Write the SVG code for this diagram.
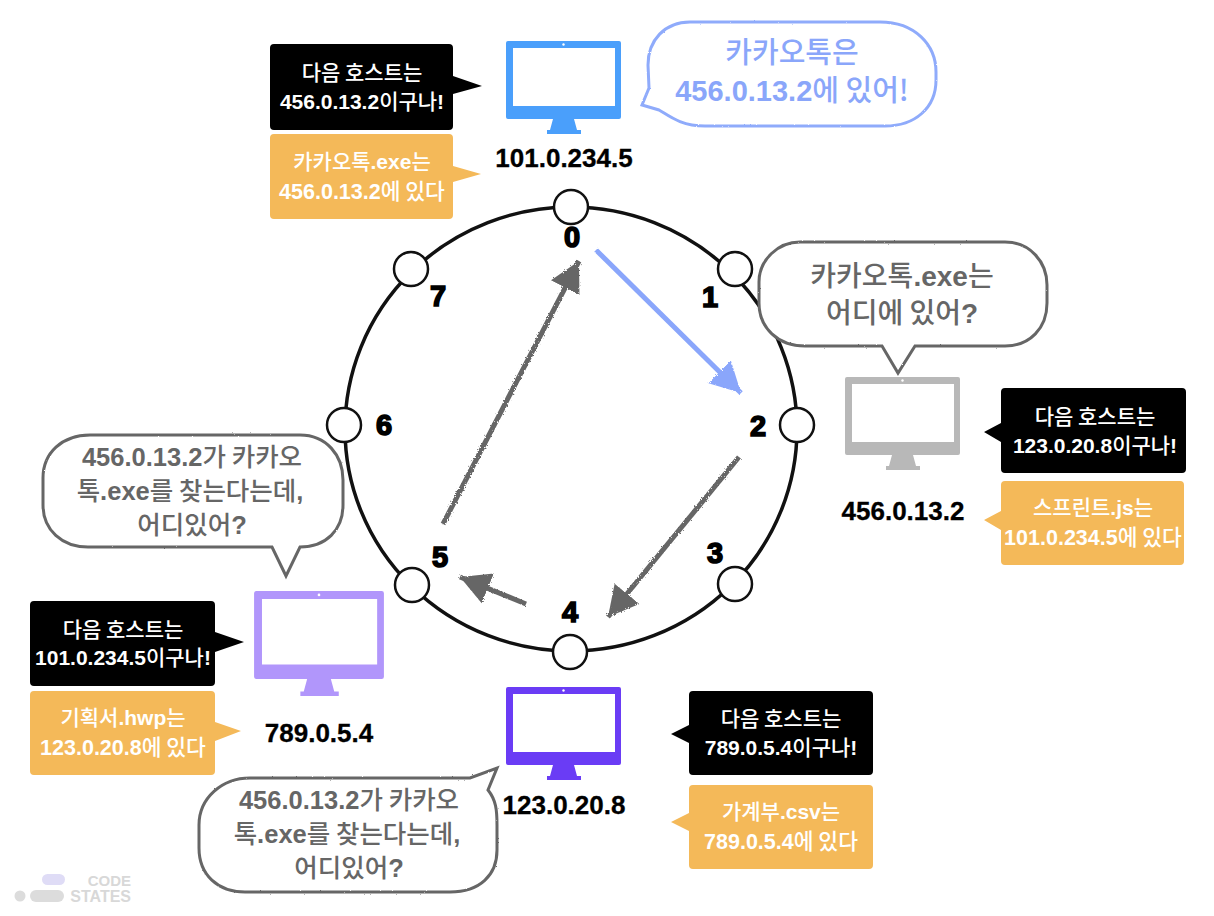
<svg xmlns="http://www.w3.org/2000/svg" width="1214" height="916" viewBox="0 0 1214 916">
<style>
text{font-family:"Liberation Sans","Noto Sans CJK KR",sans-serif;font-weight:700;text-anchor:middle}
.k{font-family:"Noto Sans CJK KR","Liberation Sans",sans-serif;font-weight:500}
.box{font-size:21px;fill:#fff}
.box2{font-size:21.5px;fill:#fff}
.ip{font-size:26px;fill:#000;stroke:#000;stroke-width:.3px}
.num{font-size:29px;fill:#000;stroke:#000;stroke-width:1.6px}
.say{font-size:25.5px;fill:#666}
.sayl{font-size:28px;fill:#666}
.sayb{font-size:29px;fill:#8aa6fa}
.bub{fill:#fff;stroke:#666;stroke-width:3px;filter:url(#rough)}
.bubb{fill:#fff;stroke:#8fabfb;stroke-width:3px;filter:url(#rough)}
.blk{fill:#000}
.org{fill:#f4b959}
.node{fill:#fff;stroke:#111;stroke-width:2.5px}
.arr{fill:none;stroke:#666;stroke-width:5px;marker-end:url(#hg);filter:url(#rough2)}
.arrb{fill:none;stroke:#8aa6fb;stroke-width:5px;marker-end:url(#hb);filter:url(#rough2)}
</style>
<defs>
<filter id="rough" x="-5%" y="-5%" width="110%" height="110%"><feTurbulence type="fractalNoise" baseFrequency="0.5" numOctaves="2" seed="3"/><feDisplacementMap in="SourceGraphic" scale="2"/></filter>
<filter id="rough2" filterUnits="userSpaceOnUse" x="0" y="0" width="1214" height="916"><feTurbulence type="fractalNoise" baseFrequency="0.7" numOctaves="2" seed="5"/><feDisplacementMap in="SourceGraphic" scale="3"/></filter>
<marker id="hg" markerUnits="userSpaceOnUse" markerWidth="36" markerHeight="36" refX="30" refY="17" orient="auto"><path d="M0 1L30 17L0 33Z" fill="#666"/></marker>
<marker id="hb" markerUnits="userSpaceOnUse" markerWidth="36" markerHeight="36" refX="30" refY="17" orient="auto"><path d="M0 1L30 17L0 33Z" fill="#8aa6fb"/></marker>
<symbol id="mon" viewBox="0 0 115 93" overflow="visible">
<path fill-rule="evenodd" d="M2 0H113a2 2 0 0 1 2 2V76a2 2 0 0 1-2 2H2a2 2 0 0 1-2-2V2a2 2 0 0 1 2-2ZM7 7V65H109V7Z"/>
<path d="M47 78H68L71 89H75V93H41V89H44Z"/>
<circle cx="57.5" cy="3.5" r="1.2" fill="#fff"/>
</symbol>
</defs>
<rect width="1214" height="916" fill="#fff"/>
<g id="ring">
<ellipse cx="571" cy="429" rx="226" ry="222" fill="none" stroke="#111" stroke-width="3.5"/>
</g>
<g id="connectors">
<line class="arrb" x1="596" y1="250" x2="741" y2="393"/>
<line class="arr" x1="739" y1="457" x2="608" y2="617"/>
<line class="arr" x1="526" y1="604" x2="460" y2="577"/>
<line class="arr" x1="443" y1="524" x2="579" y2="261"/>
</g>
<g id="ring-nodes">
<g id="n0"><circle class="node" cx="571" cy="207" r="17"/><text class="num" x="572" y="247">0</text></g>
<g id="n1"><circle class="node" cx="735" cy="269" r="17"/><text class="num" x="710" y="307">1</text></g>
<g id="n2"><circle class="node" cx="797" cy="425" r="17"/><text class="num" x="758" y="436">2</text></g>
<g id="n3"><circle class="node" cx="735" cy="584" r="17"/><text class="num" x="715" y="563">3</text></g>
<g id="n4"><circle class="node" cx="570" cy="652" r="17"/><text class="num" x="570" y="622">4</text></g>
<g id="n5"><circle class="node" cx="412" cy="585" r="17"/><text class="num" x="440" y="567">5</text></g>
<g id="n6"><circle class="node" cx="344" cy="425" r="17"/><text class="num" x="384" y="435">6</text></g>
<g id="n7"><circle class="node" cx="411" cy="269" r="17"/><text class="num" x="438" y="306">7</text></g>
</g>
<g id="host-101">
<use href="#mon" x="506" y="41" width="115" height="93" fill="#4a9ffb"/>
<text class="ip" x="564" y="167">101.0.234.5</text>
<path class="blk" d="M274 44H449a4 4 0 0 1 4 4V76L482 86L453 94V126a4 4 0 0 1-4 4H274a4 4 0 0 1-4-4V48a4 4 0 0 1 4-4Z"/>
<text class="box" x="362" y="80"><tspan class="k">다음 호스트는</tspan></text>
<text class="box" x="362" y="109">456.0.13.2<tspan class="k">이구나</tspan>!</text>
<path class="org" d="M274 134H449a4 4 0 0 1 4 4V166L481 174L453 182V215a4 4 0 0 1-4 4H274a4 4 0 0 1-4-4V138a4 4 0 0 1 4-4Z"/>
<text class="box" x="362" y="169"><tspan class="k">카카오톡</tspan>.exe<tspan class="k">는</tspan></text>
<text class="box2" x="362" y="199">456.0.13.2<tspan class="k">에 있다</tspan></text>
<path class="bubb" d="M690 22H880C915 22 936 45 936 72V80C936 108 915 126 885 126H705C680 126 668 115 659 110L642 105L649 88L648 65C648 40 665 22 690 22Z"/>
<text class="sayb" x="792" y="63"><tspan class="k">카카오톡은</tspan></text>
<text class="sayb" x="792" y="101">456.0.13.2<tspan class="k">에 있어!</tspan></text>
</g>
<g id="host-456">
<use href="#mon" x="845" y="377" width="115" height="93" fill="#b8b8b8"/>
<text class="ip" x="903" y="520">456.0.13.2</text>
<path class="blk" d="M1005 388H1182a4 4 0 0 1 4 4V469a4 4 0 0 1-4 4H1005a4 4 0 0 1-4-4V442L984 432L1001 423V392a4 4 0 0 1 4-4Z"/>
<text class="box" x="1095" y="424"><tspan class="k">다음 호스트는</tspan></text>
<text class="box" x="1095" y="453">123.0.20.8<tspan class="k">이구나</tspan>!</text>
<path class="org" d="M1005 481H1180a4 4 0 0 1 4 4V561a4 4 0 0 1-4 4H1005a4 4 0 0 1-4-4V530L984 520L1001 511V485a4 4 0 0 1 4-4Z"/>
<text class="box" x="1093" y="515"><tspan class="k">스프린트</tspan>.js<tspan class="k">는</tspan></text>
<text class="box2" x="1093" y="545">101.0.234.5<tspan class="k">에 있다</tspan></text>
<path class="bub" d="M800 242H1005C1030 242 1047 262 1047 285V303C1047 328 1030 346 1005 346H915L898 373L882 346H805C778 346 759 328 759 303V282C759 260 778 242 800 242Z"/>
<text class="sayl" x="902" y="286"><tspan class="k">카카오톡</tspan>.exe<tspan class="k">는</tspan></text>
<text class="sayl" x="902" y="323"><tspan class="k">어디에 있어</tspan>?</text>
</g>
<g id="host-123">
<use href="#mon" x="506" y="687" width="115" height="93" fill="#6a3cf5"/>
<text class="ip" x="564" y="814">123.0.20.8</text>
<path class="blk" d="M693 691H869a4 4 0 0 1 4 4V771a4 4 0 0 1-4 4H693a4 4 0 0 1-4-4V743L671 734L689 725V695a4 4 0 0 1 4-4Z"/>
<text class="box" x="781" y="726"><tspan class="k">다음 호스트는</tspan></text>
<text class="box" x="781" y="755">789.0.5.4<tspan class="k">이구나</tspan>!</text>
<path class="org" d="M693 785H869a4 4 0 0 1 4 4V865a4 4 0 0 1-4 4H693a4 4 0 0 1-4-4V831L671 822L689 813V789a4 4 0 0 1 4-4Z"/>
<text class="box" x="781" y="819"><tspan class="k">가계부</tspan>.csv<tspan class="k">는</tspan></text>
<text class="box2" x="781" y="849">789.0.5.4<tspan class="k">에 있다</tspan></text>
<path class="bub" d="M250 778H470L497 768L488 790C496 800 497 810 497 825V850C497 875 480 892 450 892H245C218 892 199 875 199 848V825C199 798 222 778 250 778Z"/>
<text class="say" x="349" y="809">456.0.13.2<tspan class="k">가 카카오</tspan></text>
<text class="say" x="347" y="843"><tspan class="k">톡</tspan>.exe<tspan class="k">를 찾는다는데</tspan>,</text>
<text class="say" x="349" y="877"><tspan class="k">어디있어</tspan>?</text>
</g>
<g id="host-789">
<use href="#mon" x="254" y="591" width="130" height="105" fill="#b196fb"/>
<text class="ip" x="319" y="742">789.0.5.4</text>
<path class="blk" d="M34 601H211a4 4 0 0 1 4 4V632L244 642L215 652V682a4 4 0 0 1-4 4H34a4 4 0 0 1-4-4V605a4 4 0 0 1 4-4Z"/>
<text class="box" x="123" y="637"><tspan class="k">다음 호스트는</tspan></text>
<text class="box" x="123" y="665">101.0.234.5<tspan class="k">이구나</tspan>!</text>
<path class="org" d="M34 691H211a4 4 0 0 1 4 4V722L241 731L215 741V771a4 4 0 0 1-4 4H34a4 4 0 0 1-4-4V695a4 4 0 0 1 4-4Z"/>
<text class="box" x="123" y="725"><tspan class="k">기획서</tspan>.hwp<tspan class="k">는</tspan></text>
<text class="box2" x="123" y="755">123.0.20.8<tspan class="k">에 있다</tspan></text>
<path class="bub" d="M90 435H300C326 435 343 455 343 480V505C343 530 326 547 300 547L286 576L272 547H88C62 547 43 530 43 505V478C43 453 62 435 90 435Z"/>
<text class="say" x="192" y="466">456.0.13.2<tspan class="k">가 카카오</tspan></text>
<text class="say" x="190" y="500"><tspan class="k">톡</tspan>.exe<tspan class="k">를 찾는다는데</tspan>,</text>
<text class="say" x="192" y="534"><tspan class="k">어디있어</tspan>?</text>
</g>
<g id="logo">
<rect x="42" y="874" width="23" height="11" rx="5.5" fill="#dfdcf6"/>
<circle cx="20" cy="896" r="5.5" fill="#dcdcdc"/>
<rect x="30" y="890" width="34" height="12" rx="6" fill="#dcdcdc"/>
<text x="131" y="886" style="text-anchor:end;font-size:15px;fill:#d8d8d8">CODE</text>
<text x="131" y="902" style="text-anchor:end;font-size:16px;fill:#d8d8d8">STATES</text>
</g>
</svg>
